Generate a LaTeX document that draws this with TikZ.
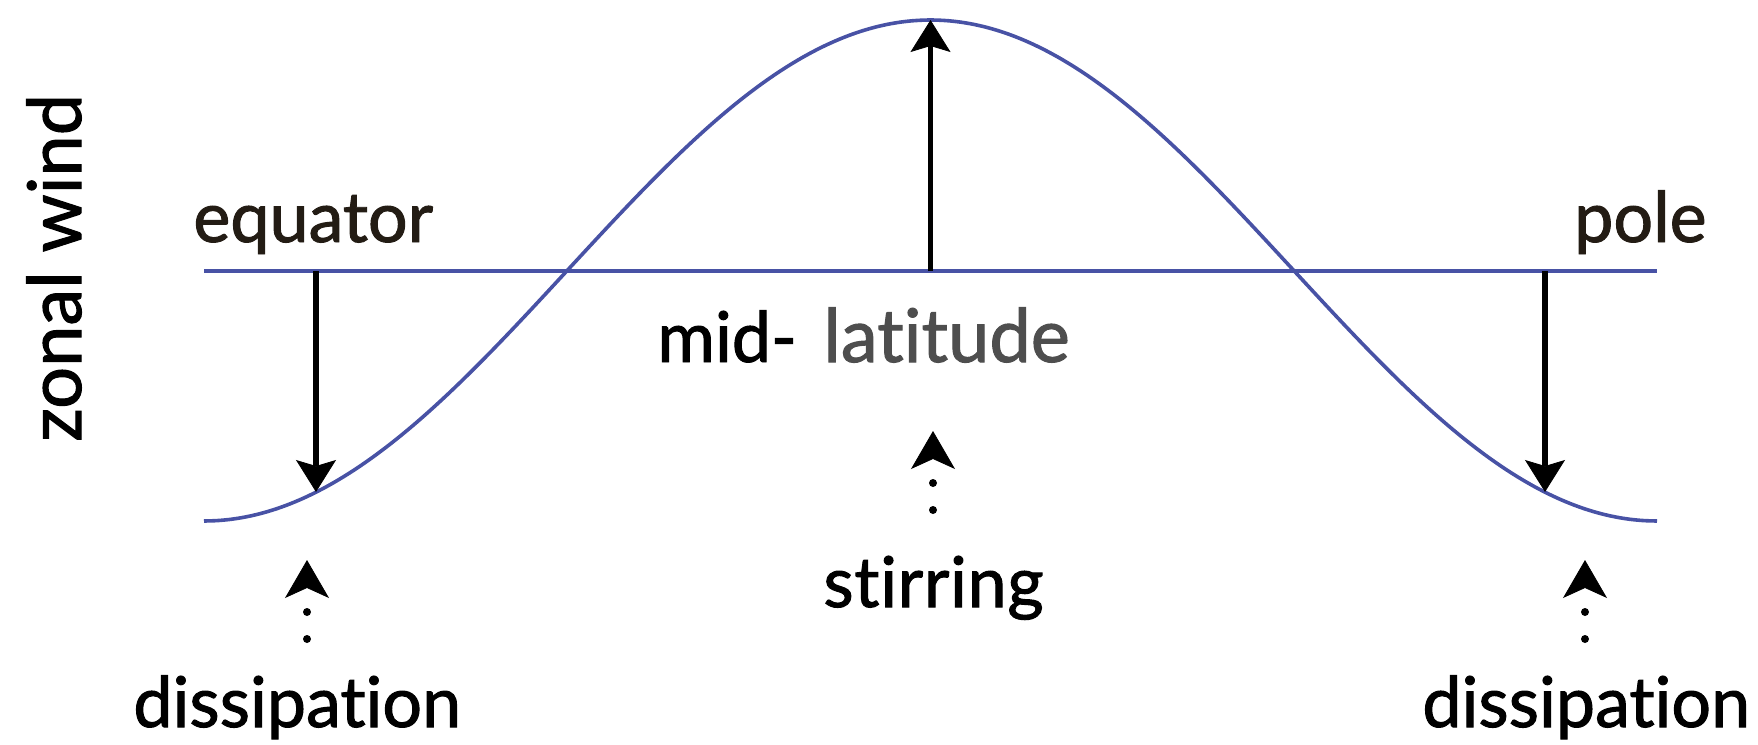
\documentclass[tikz,border=0pt]{standalone}
\usepackage{fontspec}
\setmainfont{Lato}[Ligatures=NoCommon, FakeBold=1.4]
\usetikzlibrary{arrows.meta}
\definecolor{wave}{RGB}{72,82,165}
\definecolor{labelgray}{RGB}{78,78,78}
\definecolor{labeldark}{RGB}{35,28,20}
\begin{document}
\begin{tikzpicture}[x=0.5pt,y=-0.5pt,
  curve/.style={draw=wave, line width=1.8pt},
  forcing/.style={draw=black, line width=2.8pt, -{Stealth[length=16pt,width=20pt,inset=3pt,line width=0.4pt]}},
  dotarrow/.style={draw=black, line width=4pt, line cap=round, dash pattern=on 0pt off 13.5pt, -{Stealth[length=19pt,width=22pt,inset=5pt,line width=0.4pt]}},
  lbl/.style={font=\fontsize{35}{40}\selectfont, inner sep=0pt}]
\useasboundingbox (0,0) rectangle (1758,745);
% base line and wave
\coordinate (L) at (204,271);
\coordinate (R) at (1657,271);
\draw[curve] (L) -- (R);
\draw[curve] plot[domain=204:1657, samples=120, smooth] (\x, {270.5 - 250.5*cos(0.247763*(\x-930.5))});
% forcing arrows
\coordinate (eqTop) at (316,271);
\coordinate (eqBot) at (316,492);
\coordinate (midBase) at (930.5,271);
\coordinate (midTop) at (930.5,20);
\coordinate (poleTop) at (1545,271);
\coordinate (poleBot) at (1545,492);
\draw[forcing] (eqTop) -- (eqBot);
\draw[forcing] (midBase) -- (midTop);
\draw[forcing] (poleTop) -- (poleBot);
% dotted arrows
\coordinate (dlS) at (307,639);
\coordinate (dlT) at (307,560);
\coordinate (stS) at (933,510);
\coordinate (stT) at (933,431);
\coordinate (drS) at (1585,639);
\coordinate (drT) at (1585,560);
\draw[dotarrow] (dlS) -- (dlT);
\draw[dotarrow] (stS) -- (stT);
\draw[dotarrow] (drS) -- (drT);
% labels
\node[lbl, font=\fontsize{37}{40}\selectfont, rotate=90, anchor=base west] (zw) at (81,442) {zonal wind};
\node[lbl, anchor=base west, text=labeldark] (eq) at (193,242) {equator};
\node[lbl, anchor=base east, text=labeldark] (pole) at (1707,242) {pole};
\node[lbl, anchor=base west] (mid) at (657,362) {mid-};
\node[lbl, font=\fontsize{37}{40}\selectfont, anchor=base west, text=labelgray] (lat) at (823,362) {latitude};
\node[lbl, anchor=base west] (stir) at (823,607) {\addfontfeatures{LetterSpace=1}stirring};
\node[lbl, anchor=base west] (dl) at (133,727) {dissipation};
\node[lbl, anchor=base west] (dr) at (1422,727) {dissipation};
\end{tikzpicture}
\end{document}
